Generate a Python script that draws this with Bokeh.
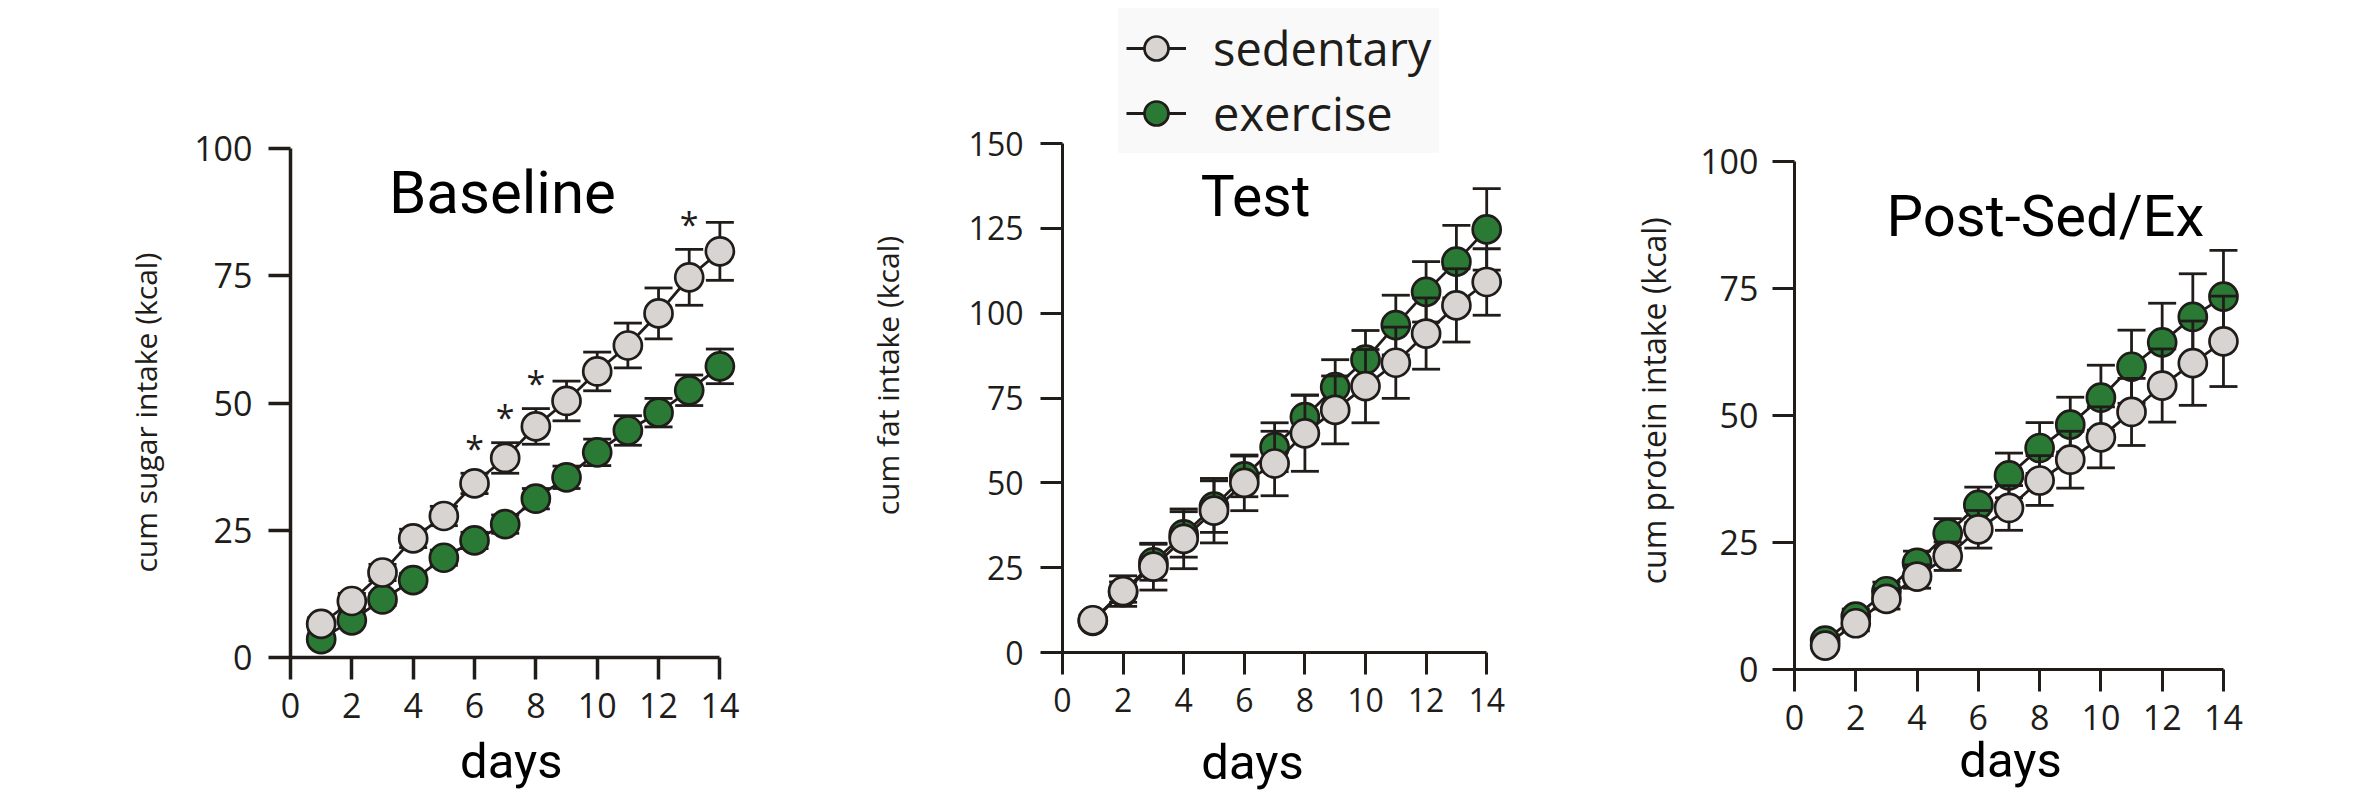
import math
from bokeh.plotting import figure
from bokeh.models import Range1d, Label, Legend, LegendItem, FixedTicker
from bokeh.layouts import row
from bokeh.embed import file_html
from bokeh.resources import INLINE
from bokeh.core.properties import value

# ---------------- data ----------------
days = list(range(1, 15))
x_ticks = [0, 2, 4, 6, 8, 10, 12, 14]

# Baseline: cumulative sugar intake (kcal)
base_sed = [6.6, 11.1, 16.7, 23.4, 27.8, 34.2, 39.2, 45.4, 50.4, 56.2, 61.3, 67.6, 74.7, 79.8]
base_sed_sem = [1.2, 1.5, 1.6, 1.8, 1.9, 2.0, 3.0, 3.5, 3.9, 3.8, 4.4, 5.0, 5.5, 5.7]
base_ex = [3.6, 7.3, 11.4, 15.2, 19.6, 23.0, 26.2, 31.2, 35.4, 40.3, 44.6, 48.1, 52.5, 57.2]
base_ex_sem = [0.8, 1.0, 1.2, 1.3, 1.5, 1.6, 1.8, 2.0, 2.2, 2.6, 2.9, 2.8, 3.0, 3.4]
base_star_days = [6, 7, 8, 13]
base_y_ticks = [0, 25, 50, 75, 100]

# Test: cumulative fat intake (kcal)
test_sed = [9.5, 18.1, 25.3, 33.5, 41.8, 50.0, 55.7, 64.6, 71.5, 78.5, 85.4, 94.0, 102.3, 109.2]
test_sed_sem = [1.5, 4.5, 6.9, 8.8, 9.5, 8.2, 9.5, 11.2, 10.0, 10.8, 10.5, 10.5, 10.8, 9.8]
test_ex = [9.3, 17.8, 26.6, 34.8, 43.0, 51.9, 60.5, 69.4, 78.2, 86.3, 96.5, 106.3, 115.2, 124.7]
test_ex_sem = [1.5, 3.0, 5.3, 6.7, 7.6, 6.0, 7.2, 6.5, 8.1, 8.6, 8.8, 8.9, 10.7, 12.0]
test_y_ticks = [0, 25, 50, 75, 100, 125, 150]

# Post-Sed/Ex: cumulative protein intake (kcal)
post_sed = [4.7, 9.1, 13.9, 18.3, 22.3, 27.6, 31.8, 37.2, 41.3, 45.7, 50.7, 55.9, 60.3, 64.6]
post_sed_sem = [1.0, 1.5, 2.0, 2.3, 2.8, 3.7, 4.4, 4.9, 5.6, 6.0, 6.6, 7.2, 8.3, 8.9]
post_ex = [5.7, 10.4, 15.4, 21.0, 26.8, 32.4, 38.2, 43.6, 48.2, 53.5, 59.6, 64.4, 69.4, 73.4]
post_ex_sem = [1.0, 1.5, 1.8, 2.3, 2.9, 3.5, 4.4, 5.0, 5.4, 6.4, 7.2, 7.7, 8.5, 9.1]
post_y_ticks = [0, 25, 50, 75, 100]

# ---------------- style ----------------
INK = "#201c1a"
SED_FILL = "#d8d4d2"
EX_FILL = "#2a7a36"
TICK_FONT = "Open Sans"
TITLE_FONT = "Roboto"
FIG_H = 794


def add_series(p, y, sem, fill):
    lo = [a - b for a, b in zip(y, sem)]
    hi = [a + b for a, b in zip(y, sem)]
    ln = p.line(days, y, line_color=INK, line_width=2.8)
    p.segment(x0=days, y0=lo, x1=days, y1=hi, line_color=INK, line_width=2.8)
    p.scatter(days, hi, marker="dash", size=28, line_color=INK, line_width=2.8)
    p.scatter(days, lo, marker="dash", size=28, line_color=INK, line_width=2.8)
    sc = p.scatter(days, y, marker="circle", size=28, fill_color=fill,
                   line_color=INK, line_width=2.7)
    return ln, sc, hi


def make_panel(width, x0_px, ppu_x, y0_px, ppu_y, yticks, tick_fs, ystand,
               axis_w, sed, sed_sem, ex, ex_sem, title, title_xy, title_fs,
               ylabel, ylabel_xy, ylabel_fs, days_xy):
    # x0_px / y0_px: pixel position of the data origin inside this figure
    xs = -x0_px / ppu_x
    ys = -(FIG_H - y0_px) / ppu_y
    p = figure(width=width, height=FIG_H,
               x_range=Range1d(xs, xs + width / ppu_x),
               y_range=Range1d(ys, ys + FIG_H / ppu_y),
               output_backend="svg", toolbar_location=None,
               min_border=0)
    p.outline_line_color = None
    p.background_fill_color = None
    p.border_fill_color = None
    p.grid.visible = False

    for ax, ticks, standoff in ((p.xaxis, x_ticks, 13), (p.yaxis, yticks, ystand)):
        ax.fixed_location = 0
        ax.ticker = FixedTicker(ticks=ticks)
        ax.bounds = (ticks[0], ticks[-1])
        ax.axis_line_color = INK
        ax.axis_line_width = axis_w
        ax.major_tick_line_color = INK
        ax.major_tick_line_width = axis_w
        ax.major_tick_out = 22
        ax.major_tick_in = 0
        ax.minor_tick_line_color = None
        ax.major_label_text_font = TICK_FONT
        ax.major_label_text_font_size = f"{tick_fs}px"
        ax.major_label_text_color = INK
        ax.major_label_standoff = standoff

    ex_ln, ex_sc, _ = add_series(p, ex, ex_sem, EX_FILL)
    sed_ln, sed_sc, sed_hi = add_series(p, sed, sed_sem, SED_FILL)

    p.add_layout(Label(x=title_xy[0], y=title_xy[1], text=title,
                       text_font=TITLE_FONT, text_font_size=f"{title_fs}px",
                       text_color="black", text_align="center",
                       text_baseline="alphabetic"))
    p.add_layout(Label(x=days_xy[0], y=days_xy[1], text="days",
                       text_font=TITLE_FONT, text_font_size="49px",
                       text_color="black", text_align="center",
                       text_baseline="alphabetic"))
    p.add_layout(Label(x=ylabel_xy[0], y=ylabel_xy[1], text=ylabel,
                       angle=math.pi / 2, text_font=TICK_FONT,
                       text_font_size=f"{ylabel_fs}px", text_color=INK,
                       text_align="center", text_baseline="middle"))
    return p, (sed_ln, sed_sc, sed_hi), (ex_ln, ex_sc)


# figure 1 spans x 0..798, figure 2 798..1560, figure 3 1560..2350
p1, s1, e1 = make_panel(798, 290, 30.67, 657, 5.09, base_y_ticks, 34, 16, 3.5,
                        base_sed, base_sed_sem, base_ex, base_ex_sem,
                        "Baseline", (6.91, 91.4), 60,
                        "cum sugar intake (kcal)", (-4.73, 48.1), 30,
                        (7.2, -20.4))

# significance stars above sedentary error bars
star_y = [s1[2][d - 1] + 5.0 for d in base_star_days]
p1.text(x=base_star_days, y=star_y, text=["*"] * len(base_star_days),
        text_font=value("Open Sans"), text_font_size="34px",
        text_color=INK, text_align="center", text_baseline="alphabetic")

p2, s2, e2 = make_panel(762, 264, 30.3, 652, 3.393, test_y_ticks, 32, 17, 3.0,
                        test_sed, test_sed_sem, test_ex, test_ex_sem,
                        "Test", (6.37, 134.5), 57,
                        "cum fat intake (kcal)", (-5.78, 81.6), 30,
                        (6.27, -32.3))

p3, s3, e3 = make_panel(790, 234, 30.64, 669, 5.08, post_y_ticks, 34, 14, 3.0,
                        post_sed, post_sed_sem, post_ex, post_ex_sem,
                        "Post-Sed/Ex", (8.19, 89.2), 58,
                        "cum protein intake (kcal)", (-4.6, 52.9), 32,
                        (7.05, -18.0))

legend = Legend(items=[LegendItem(label="sedentary", renderers=[s2[0], s2[1]]),
                       LegendItem(label="exercise", renderers=[e2[0], e2[1]])],
                location=(320, 641), glyph_width=60, glyph_height=64,
                label_height=64, spacing=1, padding=8, margin=0,
                label_standoff=27, label_text_font="Open Sans",
                label_text_font_size="47px", label_text_color=INK,
                background_fill_color="#f9f9f9", background_fill_alpha=1.0,
                border_line_alpha=0)
p2.add_layout(legend)

layout = row(p1, p2, p3)
open("out.html", "w").write(file_html(layout, INLINE))
